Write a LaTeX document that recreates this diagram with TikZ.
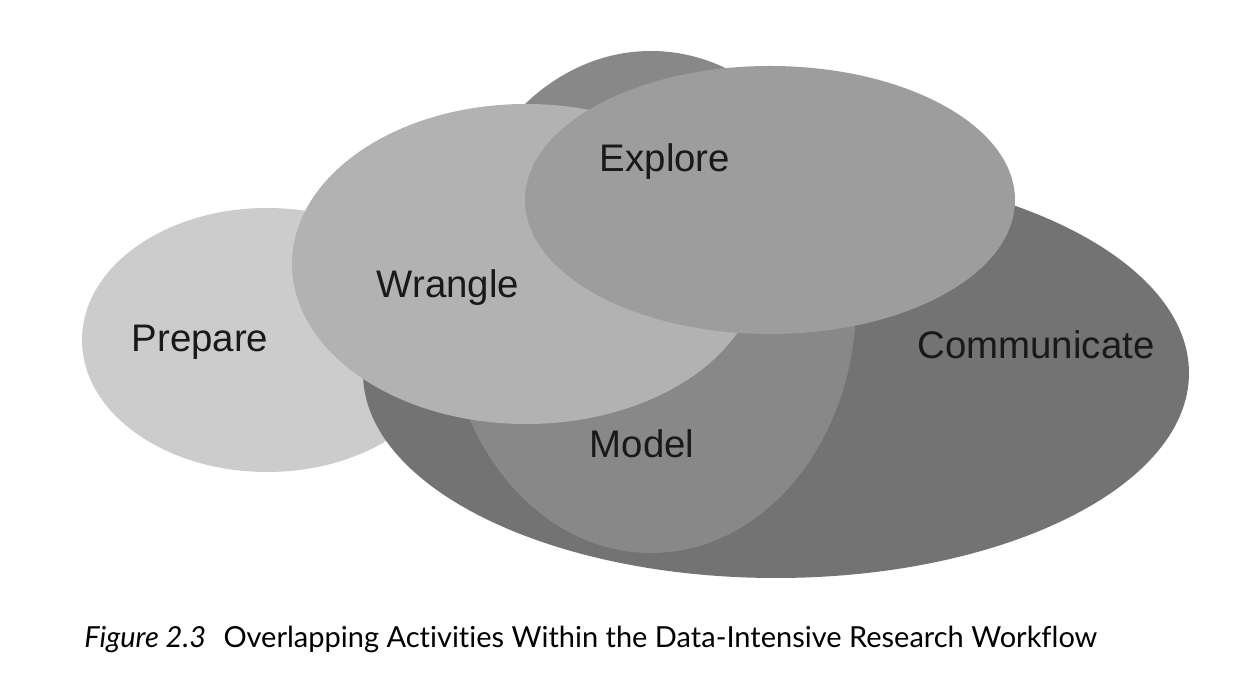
\documentclass[tikz,border=0pt]{standalone}
\usepackage{fontspec}
\setmainfont{Liberation Sans}
\newfontfamily\capfont[Ligatures={NoCommon}]{Lato}
\usepackage{xcolor}

\definecolor{prepgray}{gray}{0.80}
\definecolor{commgray}{gray}{0.45}
\definecolor{modgray}{gray}{0.535}
\definecolor{wranggray}{gray}{0.70}
\definecolor{explgray}{gray}{0.615}
\definecolor{labelink}{gray}{0.10}

\begin{document}
\begin{tikzpicture}[x=0.5pt, y=-0.5pt,
    label/.style={font=\fontsize{19.2}{22}\selectfont, text=labelink, anchor=base, inner sep=0pt},
    capstyle/.style={font=\capfont\fontsize{14.5}{17}\selectfont, anchor=base west, inner sep=0pt}]
    \useasboundingbox (0,0) rectangle (1242,688);

    % Ellipses, back to front
    \fill [prepgray] (267,340) ellipse [x radius=185, y radius=132];
    \fill [commgray] (776,373) ellipse [x radius=413, y radius=205];
    \fill [modgray] (651,302) ellipse [x radius=205, y radius=251];
    \fill [wranggray] (526,264) ellipse [x radius=234, y radius=160];
    \fill [explgray] (770,200) ellipse [x radius=245, y radius=134];

    % Node Labels
    \node [label] (prep) at (200,352) {Prepare};
    \node [label] (wrang) at (448,298) {Wrangle};
    \node [label] (expl) at (665,172) {Explore};
    \node [label] (comm) at (1036,359) {Communicate};
    \node [label] (mod) at (642,458) {Model};

    % Caption
    \node [capstyle] (caption) at (84,648) {\textit{Figure 2.3}\hspace{0.6em}Overlapping Activities Within the Data-Intensive Research Workflow};
\end{tikzpicture}
\end{document}
